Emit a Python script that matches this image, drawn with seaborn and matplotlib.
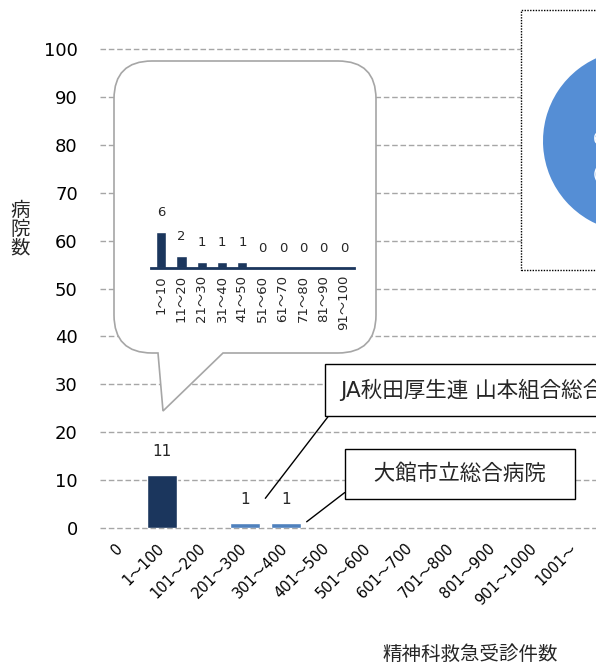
import numpy as np
import matplotlib
matplotlib.use("Agg")
import matplotlib.pyplot as plt
from matplotlib.path import Path
from matplotlib.patches import PathPatch, Rectangle
import seaborn as sns

# DATA

categories = ["0", "1～100", "101～200", "201～300", "301～400", "401～500",
              "501～600", "601～700", "701～800", "801～900", "901～1000", "1001～"]
hospital_counts = [0, 11, 0, 1, 1, 0, 0, 0, 0, 0, 0, 0]
bar_colors = ["#1B365D", "#1B365D", "#1B365D", "#4F81BD", "#4F81BD", "#1B365D",
              "#1B365D", "#1B365D", "#1B365D", "#1B365D", "#1B365D", "#1B365D"]

detail_categories = ["1～10", "11～20", "21～30", "31～40", "41～50",
                     "51～60", "61～70", "71～80", "81～90", "91～100"]
detail_counts = [6, 2, 1, 1, 1, 0, 0, 0, 0, 0]

pie_values = [13, 66]
pie_colors = ["#C0504D", "#558ED5"]

note_ja = "JA秋田厚生連 山本組合総合病院"
note_odate = "  大館市立総合病院  "

# STYLE

sns.set_theme(style="white")
plt.rcParams["font.family"] = ["DejaVu Sans", "Noto Sans CJK JP"]

W, H = 596, 669
fig = plt.figure(figsize=(W / 100, H / 100), dpi=100)


def fx(x):
    return x / W


def fy(y):
    return 1 - y / H


# MAIN CHART

ax = fig.add_axes([fx(100), fy(528), fx(496), 479 / H])
sns.barplot(x=categories, y=hospital_counts, hue=categories, palette=bar_colors,
            legend=False, width=0.72, saturation=1, ax=ax, zorder=2)
ax.set_ylim(0, 100)
ax.set_xlim(-0.5, len(categories) - 0.5)
ax.set_yticks(np.arange(0, 101, 10))
ax.yaxis.grid(True, linestyle=(0, (4, 2)), color="#A6A6A6", linewidth=1)
ax.set_axisbelow(True)
for gl in ax.get_ygridlines():
    gl.set_clip_on(False)
for s in ax.spines.values():
    s.set_visible(False)
ax.tick_params(axis="y", length=0, pad=16, labelsize=13, labelcolor="black")
ax.tick_params(axis="x", length=0, pad=13, labelsize=10.5, labelcolor="black")
for lbl in ax.get_xticklabels():
    lbl.set_rotation(45)
    lbl.set_ha("right")
    lbl.set_va("center")
    lbl.set_rotation_mode("anchor")

for cont in ax.containers:
    labels = [str(int(b.get_height())) if b.get_height() > 0 else "" for b in cont]
    ax.bar_label(cont, labels=labels, padding=12, fontsize=11)

ax.set_ylabel("病\n院\n数", rotation=0, fontsize=14, linespacing=1.0,
              ha="center", va="center")
ax.yaxis.set_label_coords(-0.161, 0.624)
ax.set_xlabel("精神科救急受診件数", fontsize=14, va="center")
ax.xaxis.set_label_coords(0.746, -0.265)

# hospital callouts
ax.annotate(note_ja, xy=(3.5, 6.2), xytext=(fx(340), fy(390)),
            textcoords="figure fraction", fontsize=15.5, ha="left", va="center",
            bbox=dict(boxstyle="square,pad=0.7", fc="white", ec="black", lw=1),
            arrowprops=dict(arrowstyle="-", color="black", lw=1, relpos=(0, 0),
                            shrinkA=0, shrinkB=0),
            annotation_clip=False, zorder=5)
ax.annotate(note_odate, xy=(4.5, 1.3), xytext=(fx(460), fy(474)),
            textcoords="figure fraction", fontsize=15.5, ha="center", va="center",
            bbox=dict(boxstyle="square,pad=0.7", fc="white", ec="black", lw=1),
            arrowprops=dict(arrowstyle="-", color="black", lw=1, relpos=(-0.03, -0.05),
                            shrinkA=0, shrinkB=0),
            annotation_clip=False, zorder=5)

# SPEECH BALLOON

L, R, T, B, r = 114, 376, 61, 353, 38
pts = [(158, B), (163, 411), (223, B), (R - r, B), (R, B), (R, B - r), (R, T + r),
       (R, T), (R - r, T), (L + r, T), (L, T), (L, T + r), (L, B - r), (L, B),
       (L + r, B), (158, B)]
codes = [Path.MOVETO, Path.LINETO, Path.LINETO, Path.LINETO, Path.CURVE3, Path.CURVE3,
         Path.LINETO, Path.CURVE3, Path.CURVE3, Path.LINETO, Path.CURVE3, Path.CURVE3,
         Path.LINETO, Path.CURVE3, Path.CURVE3, Path.CLOSEPOLY]
balloon = PathPatch(Path([(fx(x), fy(y)) for x, y in pts], codes),
                    transform=fig.transFigure, fc="white", ec="#A6A6A6", lw=1.2, zorder=1)
fig.add_artist(balloon)

ins = fig.add_axes([fx(151), fy(268), fx(354 - 151), 120 / H])
ins.set_zorder(3)
ins.patch.set_alpha(0)
sns.barplot(x=detail_categories, y=detail_counts, color="#1B365D", width=0.5,
            ax=ins, saturation=1)
ins.set_ylim(0, 20)
ins.set_xlim(-0.5, len(detail_categories) - 0.5)
ins.set_yticks([])
ins.set_xlabel("")
ins.set_ylabel("")
for k, s in ins.spines.items():
    s.set_visible(k == "bottom")
ins.spines["bottom"].set_color("#1B365D")
ins.spines["bottom"].set_linewidth(2)
ins.tick_params(axis="x", length=0, pad=5, labelsize=9.5, rotation=90)
for lbl in ins.get_xticklabels():
    lbl.set_va("top")
ins.bar_label(ins.containers[0], labels=[str(v) for v in detail_counts],
              padding=9, fontsize=9.5)

# PIE PANEL (cut off at the right edge)

frame = Rectangle((fx(521), fy(270)), fx(200), (270 - 10) / H, transform=fig.transFigure,
                  fc="white", ec="black", lw=1, linestyle=(0, (1, 1)), zorder=1)
fig.add_artist(frame)

pie_ax = fig.add_axes([fx(634 - 91), fy(141 + 91), fx(182), 182 / H])
pie_ax.set_zorder(3)
pie_ax.pie(pie_values, colors=pie_colors, startangle=90, counterclock=False,
           wedgeprops=dict(linewidth=0))
pie_ax.set_xlim(-1, 1)
pie_ax.set_ylim(-1, 1)
pie_ax.set_aspect("equal")
pie_ax.text(-0.45, 0.02, "66", color="white", fontsize=11, ha="left", va="center")
pie_ax.text(-0.45, -0.36, "(84%)", color="white", fontsize=11, ha="left", va="center")

fig.savefig("out.png", dpi=100)
